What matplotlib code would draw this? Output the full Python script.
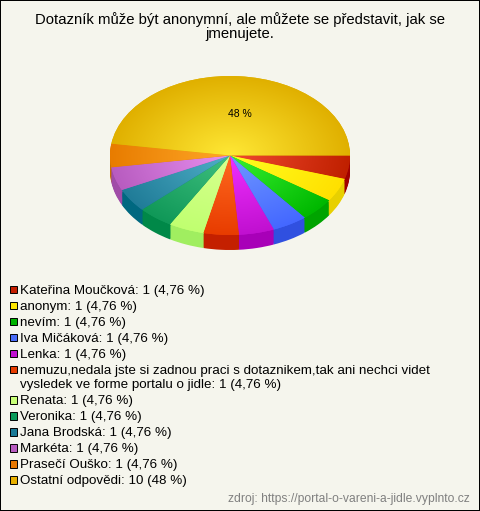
import matplotlib
matplotlib.use('Agg')
import matplotlib.pyplot as plt
import numpy as np
from matplotlib.colors import LinearSegmentedColormap
from matplotlib.patches import Rectangle

plt.rcParams['font.family'] = ['Liberation Sans', 'DejaVu Sans']

# data
labels = ['Kateřina Moučková', 'anonym', 'nevím', 'Iva Mičáková', 'Lenka',
          'nemuzu,nedala jste si zadnou praci s dotaznikem,tak ani nechci videt\nvysledek ve forme portalu o jidle',
          'Renata', 'Veronika', 'Jana Brodská', 'Markéta', 'Prasečí Ouško', 'Ostatní odpovědi']
counts = [1, 1, 1, 1, 1, 1, 1, 1, 1, 1, 1, 10]
percents = ['4,76 %'] * 11 + ['48 %']

# colours: legend / centre of slice / edge of slice / side wall
legend_colors = ['#c41e00', '#ffe600', '#00b400', '#4a6cf7', '#c010d0', '#e63c00',
                 '#c8ff78', '#0a9a5a', '#1a7a96', '#b85cc0', '#e87800', '#e8b000']
center_colors = ['#f04a30', '#ffff20', '#38f030', '#7098ff', '#f030ff', '#ff6a20',
                 '#d8ff90', '#40c080', '#50b0c8', '#e890f0', '#ffa828', '#ffe835']
edge_colors = ['#c02000', '#ffe000', '#00b800', '#4468ff', '#c010d0', '#e83c00',
               '#c0ff70', '#109858', '#207c98', '#b85cc0', '#e87c00', '#e0b000']
side_colors = ['#a00000', '#e8d000', '#00a400', '#3050e0', '#a800b8', '#c42000',
               '#a0ee60', '#008848', '#006880', '#a04ca8', '#c87000', '#c89800']

title = 'Dotazník může být anonymní, ale můžete se představit, jak se\njmenujete.'
source = 'zdroj: https://portal-o-vareni-a-jidle.vyplnto.cz'

W, H = 480, 511
bg = '#f5f5ed'
fig = plt.figure(figsize=(W / 100, H / 100), dpi=100, facecolor=bg)
fig.patch.set_edgecolor('black')
fig.patch.set_linewidth(1.4)

# axes stretched so the unit circle is a flat ellipse
rx, ry = 120, 79.5
cx, cy = 230, 155.5
ax = fig.add_axes([(cx - rx) / W, (H - cy - ry - 20) / H, 2 * rx / W, (2 * ry + 20) / H])
depth = 15 / ry

# side wall: same pie stacked downwards
for d in np.linspace(depth, 0.02, 16):
    ax.pie(counts, colors=side_colors, startangle=0, counterclock=False, center=(0, -d),
           wedgeprops={'linewidth': 0})

wedges, _, autotexts = ax.pie(counts, colors=edge_colors, startangle=0, counterclock=False,
                              autopct=lambda p: '%.0f %%' % p if p > 40 else '',
                              pctdistance=0.53, textprops={'fontsize': 7.5},
                              wedgeprops={'linewidth': 0})

# radial shading clipped to each slice
xx, yy = np.meshgrid(np.linspace(-1, 1, 300), np.linspace(-1, 1, 300))
rr = np.clip(np.hypot(xx, yy), 0, 1)
for w, c0, c1 in zip(wedges, center_colors, edge_colors):
    cmap = LinearSegmentedColormap.from_list('s', [c0, c1])
    im = ax.imshow(rr, extent=(-1, 1, -1, 1), origin='lower', cmap=cmap, vmin=0, vmax=1,
                   aspect='auto', zorder=3)
    im.set_clip_path(w)
for t in autotexts:
    t.set_zorder(5)
    if t.get_text():
        t.set_position((0.08, 0.52))

ax.set_aspect('auto')
ax.set_xlim(-1, 1)
ax.set_ylim(-1 - 20 / ry, 1)
ax.axis('off')

fig.text(240 / W, 1 - 27 / H, title, ha='center', va='center', fontsize=10.75, linespacing=1.0)

# legend rows, wrapped entry takes an extra line
y = 289
for name, n, p, c in zip(labels, counts, percents, legend_colors):
    fig.add_artist(Rectangle((9.5 / W, 1 - (y + 4) / H), 7.5 / W, 7.5 / H, transform=fig.transFigure,
                             facecolor=c, edgecolor='black', linewidth=0.7))
    text = '%s: %d (%s)' % (name, n, p)
    lines = text.split('\n')
    for i, line in enumerate(lines):
        fig.text(20 / W, 1 - (y + 14 * i) / H, line, ha='left', va='center_baseline', fontsize=9.65)
    y += 16 + 14 * (len(lines) - 1) + (0.6 if len(lines) > 1 else 0)

fig.text(470 / W, 1 - 499 / H, source, ha='right', va='center', fontsize=8.75, color='#808080')

fig.savefig('out.png', dpi=100, facecolor=fig.get_facecolor(), edgecolor='black')
